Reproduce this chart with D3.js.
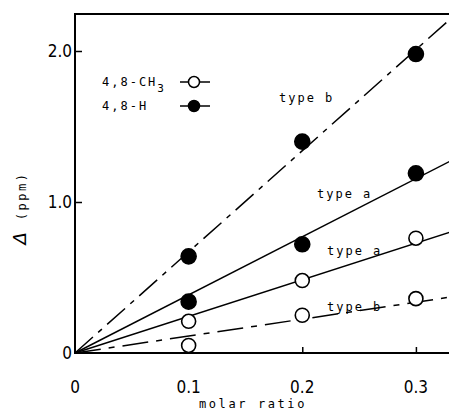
<!DOCTYPE html>
<html>
<head>
<meta charset="utf-8">
<script src="https://cdn.jsdelivr.net/npm/d3@7"></script>
<style>
  body { margin: 0; background: #fff; }
  svg { display: block; }
</style>
</head>
<body>
<div id="chart"></div>
<script>
// data
const ratios = [0.1, 0.2, 0.3];
const hTypeB = [0.64, 1.40, 1.98];   // 4,8-H, filled, dashed fit
const hTypeA = [0.34, 0.72, 1.19];   // 4,8-H, filled, solid fit
const meTypeA = [0.21, 0.48, 0.76];  // 4,8-CH3, open, solid fit
const meTypeB = [0.05, 0.25, 0.36];  // 4,8-CH3, open, dashed fit
// fitted lines from origin: value reached at x = 0.33
const fitEnds = { hB: 2.21, hA: 1.27, meA: 0.80, meB: 0.37 };
const xTicks = [0, 0.1, 0.2, 0.3];
const yTicks = [0, 1.0, 2.0];

const w = 449, h = 410;
const mono = 'DejaVu Sans Mono';

const x = d3.scaleLinear().domain([0, 0.33]).range([75, 450]);
const y = d3.scaleLinear().domain([0, 2.0]).range([353, 51]);

const svg = d3.select('#chart').append('svg')
  .attr('width', w).attr('height', h);

// frame: top line, left axis, bottom axis
svg.append('line')
  .attr('x1', x(0)).attr('x2', w).attr('y1', 14).attr('y2', 14)
  .attr('stroke', '#000').attr('stroke-width', 2);

const xAxis = d3.axisBottom(x).tickValues(xTicks.slice(1))
  .tickSize(-6).tickFormat('');
svg.append('g').attr('class', 'x-axis')
  .attr('transform', `translate(0, ${y(0)})`)
  .call(xAxis);

const yAxis = d3.axisLeft(y).tickValues(yTicks.slice(1))
  .tickSize(-7).tickFormat('');
svg.append('g').attr('class', 'y-axis')
  .attr('transform', `translate(${x(0)}, 0)`)
  .call(yAxis);

svg.selectAll('.domain').remove();
svg.selectAll('.tick line').attr('stroke', '#000').attr('stroke-width', 1.5);

svg.append('line')
  .attr('x1', x(0)).attr('x2', w).attr('y1', y(0)).attr('y2', y(0))
  .attr('stroke', '#000').attr('stroke-width', 2);
svg.append('line')
  .attr('x1', x(0)).attr('x2', x(0)).attr('y1', 13).attr('y2', y(0) + 1)
  .attr('stroke', '#000').attr('stroke-width', 2);

// tick labels
const tickFont = 'DejaVu Sans Condensed';
svg.selectAll('.xlab').data(xTicks).join('text')
  .attr('x', d => x(d)).attr('y', 393)
  .attr('text-anchor', 'middle')
  .attr('font-family', tickFont).attr('font-size', 17)
  .text(d => d === 0 ? '0' : d.toFixed(1));

svg.selectAll('.ylab').data(yTicks).join('text')
  .attr('x', 72).attr('y', d => y(d) + 6)
  .attr('text-anchor', 'end')
  .attr('font-family', tickFont).attr('font-size', 17)
  .text(d => d === 0 ? '0' : d.toFixed(1));

// axis titles
svg.append('text')
  .attr('x', 253).attr('y', 408)
  .attr('text-anchor', 'middle')
  .attr('font-family', mono).attr('font-size', 12)
  .attr('letter-spacing', 2.6)
  .text('molar ratio');

const yt = svg.append('text')
  .attr('transform', 'translate(26, 208) rotate(-90)')
  .attr('text-anchor', 'middle')
  .attr('font-family', mono);
yt.append('tspan').attr('font-size', 18).attr('font-style', 'italic')
  .attr('font-family', 'DejaVu Sans').text('Δ');
yt.append('tspan').attr('font-size', 12).attr('dx', 12).attr('letter-spacing', 2.5).text('(ppm)');

// fitted lines
const plot = svg.append('g');
const fits = [
  { end: fitEnds.hB, dash: '24,7,5,7' },
  { end: fitEnds.hA, dash: null },
  { end: fitEnds.meA, dash: null },
  { end: fitEnds.meB, dash: '26,8,6,8' }
];
const line = d3.line().x(d => x(d[0])).y(d => y(d[1]));
plot.selectAll('.fit').data(fits).join('path')
  .attr('d', d => line([[0, 0], [0.33, d.end]]))
  .attr('fill', 'none').attr('stroke', '#000').attr('stroke-width', 1.5)
  .attr('stroke-dasharray', d => d.dash);

// points
const series = [
  { vals: hTypeB, filled: true },
  { vals: hTypeA, filled: true },
  { vals: meTypeA, filled: false },
  { vals: meTypeB, filled: false }
];
series.forEach(s => {
  plot.selectAll(null).data(s.vals).join('circle')
    .attr('cx', (d, i) => x(ratios[i])).attr('cy', d => y(d))
    .attr('r', s.filled ? 7.5 : 7)
    .attr('fill', s.filled ? '#000' : '#fff')
    .attr('stroke', '#000').attr('stroke-width', 1.6);
});

// curve labels
const labels = [
  { text: 'type b', x: 279, y: 102 },
  { text: 'type a', x: 317, y: 198 },
  { text: 'type a', x: 327, y: 255 },
  { text: 'type b', x: 327, y: 311 }
];
svg.selectAll('.clab').data(labels).join('text')
  .attr('x', d => d.x).attr('y', d => d.y)
  .attr('font-family', mono).attr('font-size', 12)
  .attr('letter-spacing', 2)
  .text(d => d.text);

// legend
const legend = [
  { name: '4,8-CH', sub: '3', filled: false, y: 82 },
  { name: '4,8-H', sub: '', filled: true, y: 106 }
];
const lg = svg.selectAll('.lg').data(legend).join('g')
  .attr('transform', d => `translate(0, ${d.y})`);
const lt = lg.append('text').attr('x', 102).attr('y', 4)
  .attr('font-family', mono).attr('font-size', 12).attr('letter-spacing', 2);
lt.append('tspan').text(d => d.name);
lt.append('tspan').attr('dy', 6).attr('font-size', 11).text(d => d.sub);
lg.append('line').attr('x1', 180).attr('x2', 210).attr('y1', 0).attr('y2', 0)
  .attr('stroke', '#000').attr('stroke-width', 1.5);
lg.append('circle').attr('cx', 194).attr('cy', 0).attr('r', 5.5)
  .attr('fill', d => d.filled ? '#000' : '#fff')
  .attr('stroke', '#000').attr('stroke-width', 1.5);
</script>
</body>
</html>
